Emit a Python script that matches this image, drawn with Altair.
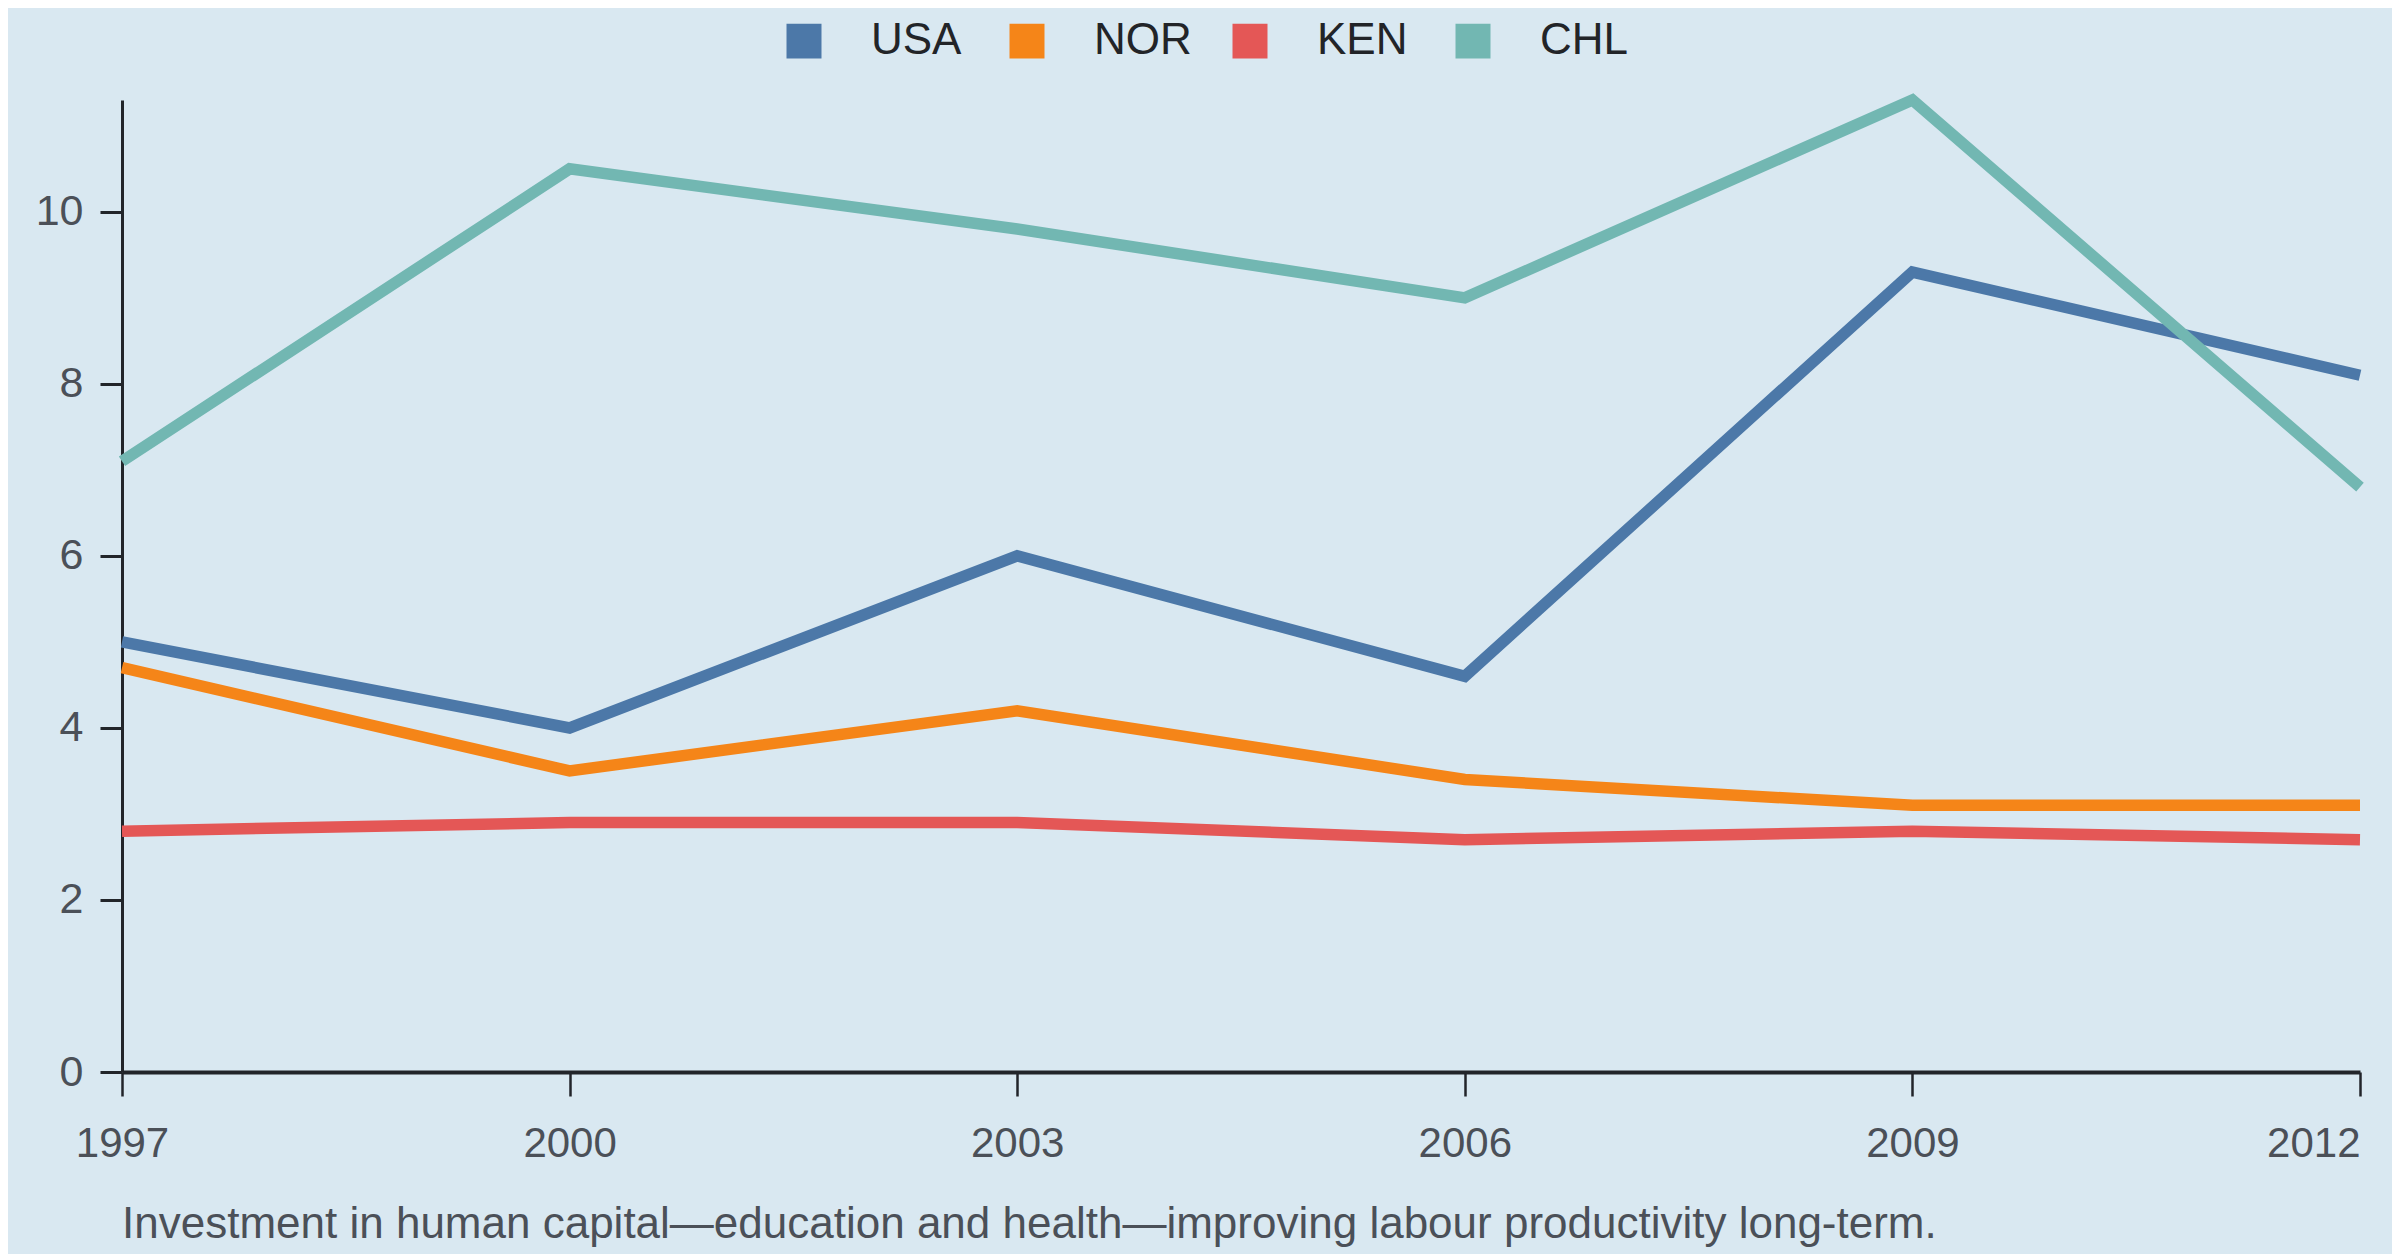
import altair as alt
import pandas as pd

years = [1997, 2000, 2003, 2006, 2009, 2012]
countries = ["USA", "NOR", "KEN", "CHL"]
usa = [5.0, 4.0, 6.0, 4.6, 9.3, 8.1]
nor = [4.7, 3.5, 4.2, 3.4, 3.1, 3.1]
ken = [2.8, 2.9, 2.9, 2.7, 2.8, 2.7]
chl = [7.1, 10.5, 9.8, 9.0, 11.3, 6.8]
colors = ["#4c78a8", "#f58518", "#e45756", "#72b7b2"]
y_ticks = [0, 2, 4, 6, 8, 10]
caption = "Investment in human capital\u2014education and health\u2014improving labour productivity long-term."

rows = []
for name, vals in zip(countries, [usa, nor, ken, chl]):
    for yr, v in zip(years, vals):
        rows.append({"year": yr, "country": name, "value": v})
df = pd.DataFrame(rows)

FONT = "Liberation Sans"
BG = "#d9e8f1"

chart = (
    alt.Chart(df)
    .mark_line(strokeWidth=11.5, strokeJoin="miter")
    .encode(
        x=alt.X(
            "year:Q",
            scale=alt.Scale(domain=[1997, 2012], nice=False, zero=False),
            axis=alt.Axis(
                title=None,
                values=years,
                format="d",
                grid=False,
                domainColor="#22252a",
                domainWidth=4,
                tickColor="#22252a",
                tickWidth=2.5,
                tickSize=24,
                labelFont=FONT,
                labelFontSize=42,
                labelColor="#4b5058",
                labelPadding=27,
                labelAlign={"condition": {"test": "datum.value == 2012", "value": "right"}, "value": "center"},
                labelFlush=False,
            ),
        ),
        y=alt.Y(
            "value:Q",
            scale=alt.Scale(domain=[0, 11.3], nice=False),
            axis=alt.Axis(
                title=None,
                values=y_ticks,
                grid=False,
                domainColor="#22252a",
                domainWidth=3,
                tickColor="#22252a",
                tickWidth=3,
                tickSize=22,
                labelFont=FONT,
                labelFontSize=43,
                labelColor="#4b5058",
                labelPadding=17,
            ),
        ),
        color=alt.Color(
            "country:N",
            scale=alt.Scale(domain=countries, range=colors),
            sort=countries,
            legend=alt.Legend(
                title=None,
                orient="none",
                direction="horizontal",
                legendX=660,
                legendY=-81,
                symbolType="square",
                symbolSize=306,
                symbolStrokeWidth=17.5,
                symbolOpacity=1,
                labelFont=FONT,
                labelFontSize=44,
                labelColor="#222428",
                labelOffset=45,
                columnPadding=14,
                gridAlign="all",
            ),
        ),
    )
    .properties(
        width=2238,
        height=972,
        background=BG,
        padding={"left": 114, "top": 92, "right": 32, "bottom": 182},
        autosize=alt.AutoSizeParams(type="none"),
        title=alt.TitleParams(
            text=caption,
            orient="bottom",
            anchor="start",
            frame="group",
            font=FONT,
            fontSize=44,
            fontWeight="normal",
            color="#4b5058",
            offset=39,
        ),
    )
    .configure_view(stroke=None)
)

chart.save("out.html", embed_options={"renderer": "svg", "actions": False})
